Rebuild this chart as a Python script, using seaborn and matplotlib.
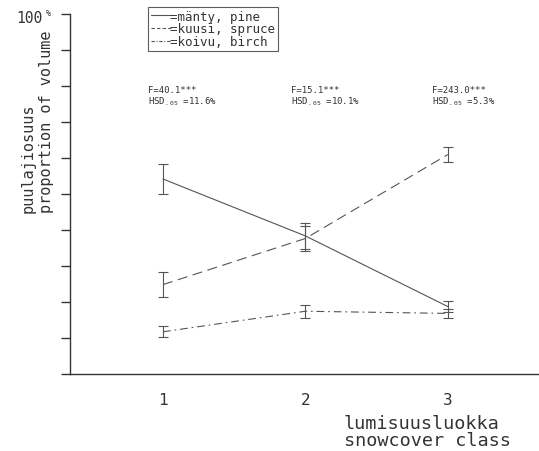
import numpy as np
import pandas as pd
import matplotlib
matplotlib.use("Agg")
import matplotlib.pyplot as plt
from matplotlib.lines import Line2D
import seaborn as sns

# ---- data ----
classes = [1, 2, 3]
species = ["pine", "spruce", "birch"]
legend_labels = ["=mänty, pine", "=kuusi, spruce", "=koivu, birch"]
pine_mean = [54.2, 38.4, 18.8]
pine_err = [4.2, 3.6, 1.6]
spruce_mean = [24.9, 37.7, 61.0]
spruce_err = [3.5, 3.4, 2.1]
birch_mean = [11.8, 17.5, 16.9]
birch_err = [1.5, 1.8, 1.2]
f_texts = ["F=40.1***", "F=15.1***", "F=243.0***"]
hsd_values = ["11.6%", "10.1%", "5.3%"]
ytick_values = list(range(0, 101, 10))
xtick_labels = ["1", "2", "3"]

sns.set_style("white")
plt.rcParams["font.family"] = ["DejaVu Sans Mono", "DejaVu Sans"]
plt.rcParams["mathtext.fontset"] = "dejavusans"

LINE_C = "#555555"
AX_C = "#333333"
TXT_C = "#333333"

df = pd.DataFrame({
    "class": classes * 3,
    "value": pine_mean + spruce_mean + birch_mean,
    "err": pine_err + spruce_err + birch_err,
    "species": np.repeat(species, 3),
})

fig = plt.figure(figsize=(5.39, 4.52), dpi=100)
ax = fig.add_axes([70 / 539, (452 - 375.3) / 452, (539 - 70) / 539, 360.3 / 452])

dashes = {"pine": "", "spruce": (9, 5), "birch": (7, 3.5, 1.5, 3.5)}
sns.lineplot(data=df, x="class", y="value", style="species", style_order=species,
             dashes=dashes, color=LINE_C, linewidth=0.8, errorbar=None,
             legend=False, ax=ax)

for sp in species:
    sub = df[df["species"] == sp]
    ax.errorbar(sub["class"], sub["value"], yerr=sub["err"], fmt="none",
                ecolor=LINE_C, elinewidth=0.8, capsize=3.8, capthick=0.8)

ax.set_xlim(0.347, 3.64)
ax.set_ylim(0, 100)
for s in ["top", "right"]:
    ax.spines[s].set_visible(False)
for s in ["left", "bottom"]:
    ax.spines[s].set_color(AX_C)
    ax.spines[s].set_linewidth(1.0)

ax.set_yticks(ytick_values)
ax.set_yticklabels([])
ax.tick_params(axis="y", length=6.7, width=1.0, direction="out", color=AX_C, left=True)
ax.set_xticks(classes)
ax.set_xticklabels(xtick_labels, fontsize=11.5, color=TXT_C)
ax.tick_params(axis="x", length=0, pad=13)
ax.set_xlabel("")
ax.set_ylabel("")

# 100 % label
ytr = ax.get_yaxis_transform()
ax.text(-28 / 469, 99, "100", transform=ytr, ha="right", va="center",
        fontsize=10.5, color=TXT_C, clip_on=False)
ax.text(-22 / 469, 100.3, "%", transform=ytr, ha="center", va="center",
        fontsize=6, color=TXT_C, clip_on=False)

# y labels
fig.text(28 / 539, 1 - 213 / 452, "puulajiosuus", rotation=90, ha="center",
         va="bottom", fontsize=11, color=TXT_C)
fig.text(47 / 539, 1 - 213 / 452, "proportion of volume", rotation=90,
         ha="center", va="bottom", fontsize=11, color=TXT_C)

# x labels
fig.text(344 / 539, 1 - 429.3 / 452, "lumisuusluokka", ha="left",
         va="baseline", fontsize=13.3, color=TXT_C)
fig.text(344 / 539, 1 - 446 / 452, "snowcover class", ha="left",
         va="baseline", fontsize=13.3, color=TXT_C)

# F / HSD annotations
ann_x = [0.895, 1.90, 2.886]
for xx, ft, hv in zip(ann_x, f_texts, hsd_values):
    ax.text(xx, 79.0, ft, ha="left", va="center", fontsize=6.5, color=TXT_C)
    ax.text(xx, 76.0, "HSD$_{\\mathregular{.05}}$ =" + hv, ha="left",
            va="center", fontsize=6.5, color=TXT_C)

# legend
handles = [
    Line2D([], [], color=LINE_C, lw=0.8, linestyle="-"),
    Line2D([], [], color=LINE_C, lw=0.8, linestyle=(0, (3, 2))),
    Line2D([], [], color=LINE_C, lw=0.8, linestyle=(0, (3, 1.5, 1, 1.5))),
]
leg = fig.legend(handles, legend_labels, loc="upper left",
                 bbox_to_anchor=(148 / 539, 1 - 8 / 452),
                 fontsize=9, frameon=True, fancybox=False, handlelength=1.6,
                 handletextpad=0.0, labelspacing=-0.02, borderpad=0.2,
                 borderaxespad=0.0)
leg.get_frame().set_edgecolor(AX_C)
leg.get_frame().set_linewidth(0.8)
for t in leg.get_texts():
    t.set_color(TXT_C)

fig.savefig("out.png", dpi=100)
